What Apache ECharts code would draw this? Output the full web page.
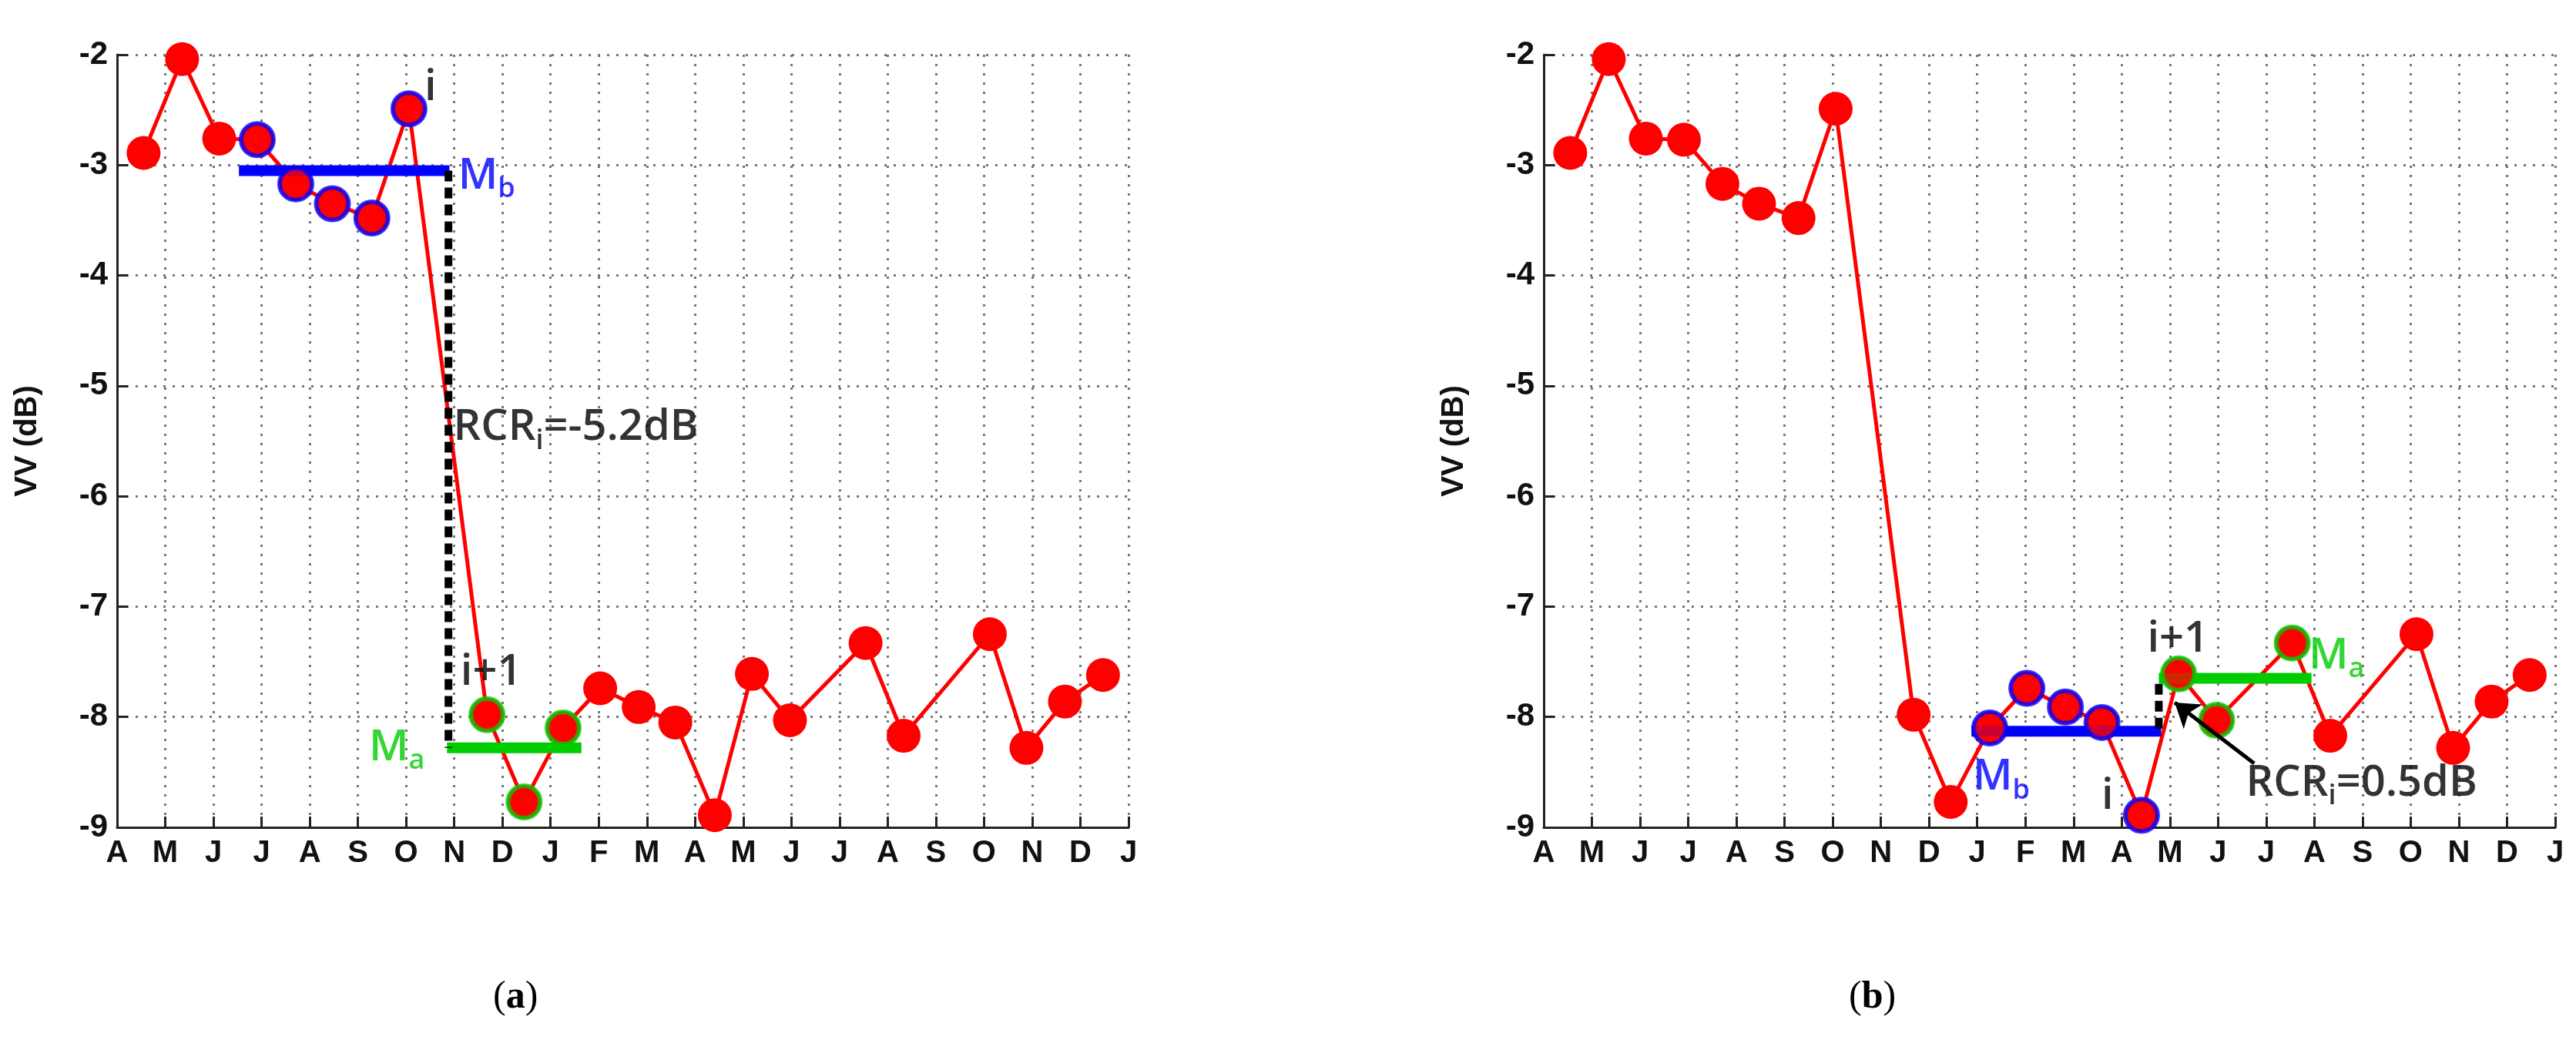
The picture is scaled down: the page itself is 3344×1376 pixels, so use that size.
<!DOCTYPE html>
<html><head><meta charset="utf-8">
<script src="https://cdn.jsdelivr.net/npm/echarts@6/dist/echarts.min.js"></script>
<style>html,body{margin:0;padding:0;background:#fff}#c{width:3344px;height:1376px}</style>
</head><body><div id="c"></div>
<script>
const monthLabels = ['A','M','J','J','A','S','O','N','D','J','F','M','A','M','J','J','A','S','O','N','D','J'];
const xPos = [0.55,1.35,2.12,2.91,3.71,4.47,5.29,6.06,7.68,8.45,9.26,10.03,10.83,11.59,12.41,13.18,13.97,15.54,16.33,18.12,18.88,19.68,20.47];
const vv = [-2.89,-2.04,-2.76,-2.77,-3.17,-3.35,-3.48,-2.49,-7.98,-8.77,-8.10,-7.74,-7.91,-8.05,-8.89,-7.61,-8.03,-7.33,-8.17,-7.25,-8.28,-7.86,-7.62];
// panel a
const aBlue = [3,4,5,6,7], aGreen = [8,9,10];
const aMb = [[2.53,-3.05],[6.9,-3.05]];
const aMa = [[6.85,-8.28],[9.64,-8.28]];
const aRcr = [[6.88,-3.05],[6.88,-8.28]];
// panel b
const bBlue = [10,11,12,13,14], bGreen = [15,16,17];
const bMb = [[8.88,-8.13],[12.82,-8.13]];
const bMa = [[12.77,-7.65],[15.94,-7.65]];
const bRcr = [[12.77,-7.7],[12.77,-8.13]];
const bArrow = [[14.75,-8.42],[13.1,-7.87]];

const chart = echarts.init(document.getElementById('c'));
const F = 'Arial, Liberation Sans, sans-serif';
const TF = '"Open Sans", "Noto Sans", sans-serif';
function axes(i){
  return {
    x:{type:'value',gridIndex:i,min:0,max:21,interval:1,
      axisLine:{lineStyle:{color:'#222',width:3}},
      axisTick:{inside:true,length:14,lineStyle:{color:'#222',width:3}},
      axisLabel:{formatter:v=>monthLabels[Math.round(v)],fontFamily:F,fontWeight:'bold',fontSize:40,color:'#111',margin:14},
      splitLine:{show:true,lineStyle:{type:[3,9],color:'#777',width:3}}},
    y:{type:'value',gridIndex:i,min:-9,max:-2,interval:1,name:'VV (dB)',nameLocation:'middle',nameGap:96,
      nameTextStyle:{fontFamily:F,fontWeight:'bold',fontSize:40,color:'#111'},
      axisLine:{show:true,lineStyle:{color:'#222',width:3}},
      axisTick:{inside:true,length:14,lineStyle:{color:'#222',width:3}},
      axisLabel:{fontFamily:F,fontWeight:'bold',fontSize:42,color:'#111',margin:12},
      splitLine:{show:true,lineStyle:{type:[3,9],color:'#777',width:3}}}
  };
}
const a0=axes(0), a1=axes(1);
const pts = xPos.map((x,i)=>[x,vv[i]]);
function seg(i,d,color,w,type){return {type:'line',xAxisIndex:i,yAxisIndex:i,data:d,symbol:'none',lineStyle:{color:color,width:w,type:type||'solid'},z:5,animation:false};}
function rings(i,idx,color){return {type:'scatter',xAxisIndex:i,yAxisIndex:i,data:idx.map(k=>pts[k]),symbolSize:42,itemStyle:{color:'#ff0000',borderColor:color,borderWidth:6},z:6,animation:false};}
function txt(i,x,y,str,color,pos){return {type:'scatter',xAxisIndex:i,yAxisIndex:i,data:[[x,y]],symbolSize:0,
  label:{show:true,position:pos||'right',formatter:str,color:color,
    rich:{n:{fontFamily:TF,fontWeight:600,fontSize:56,color:color},s:{fontFamily:TF,fontWeight:600,fontSize:36,color:color,verticalAlign:'bottom',padding:[34,0,0,0]}}},z:8,animation:false};}
function main(i){return {type:'line',xAxisIndex:i,yAxisIndex:i,data:pts,symbol:'circle',symbolSize:44,
  itemStyle:{color:'#ff0000'},lineStyle:{color:'#ff0000',width:5},z:4,animation:false};}
chart.setOption({
  animation:false,
  grid:[{left:152,right:1879,top:71,bottom:302},{left:2004,right:27,top:71,bottom:302}],
  xAxis:[a0.x,a1.x], yAxis:[a0.y,a1.y],
  series:[
    main(0), main(1),
    seg(0,aMb,'#0000ff',14), seg(0,aMa,'#00cc00',14), seg(0,aRcr,'#000',10,[14,8]),
    rings(0,aBlue,'#0000ff'), rings(0,aGreen,'#00cc00'),
    txt(0,6.3,-2.3,'{n|i}','#000'),
    txt(0,7.0,-3.1,'{n|M}{s|b}','#0000ff'),
    txt(0,6.9,-5.38,'{n|RCR}{s|i}{n|=-5.2dB}','#000'),
    txt(0,7.05,-7.6,'{n|i+1}','#000'),
    txt(0,5.15,-8.28,'{n|M}{s|a}','#00cc00'),
    seg(1,bMb,'#0000ff',14), seg(1,bMa,'#00cc00',14), seg(1,bRcr,'#000',10,[14,8]),
    rings(1,bBlue,'#0000ff'), rings(1,bGreen,'#00cc00'),
    {type:'lines',coordinateSystem:'cartesian2d',xAxisIndex:1,yAxisIndex:1,data:[{coords:bArrow}],
      lineStyle:{color:'#000',width:5,opacity:1},symbol:['none','arrow'],symbolSize:30,z:9,animation:false},
    txt(1,11.5,-8.72,'{n|i}','#000'),
    txt(1,9.5,-8.55,'{n|M}{s|b}','#0000ff','inside'),
    txt(1,12.45,-7.3,'{n|i+1}','#000'),
    txt(1,15.8,-7.45,'{n|M}{s|a}','#00cc00'),
    txt(1,14.5,-8.6,'{n|RCR}{s|i}{n|=0.5dB}','#000')
  ],
  graphic:[
    {type:'text',left:640,top:1270,style:{rich:{b:{font:'bold 50px "Liberation Serif"',fill:'#000'},r:{font:'50px "Liberation Serif"',fill:'#000'}},text:'{r|(}{b|a}{r|)}'}},
    {type:'text',left:2400,top:1270,style:{rich:{b:{font:'bold 50px "Liberation Serif"',fill:'#000'},r:{font:'50px "Liberation Serif"',fill:'#000'}},text:'{r|(}{b|b}{r|)}'}}
  ]
});
</script></body></html>
